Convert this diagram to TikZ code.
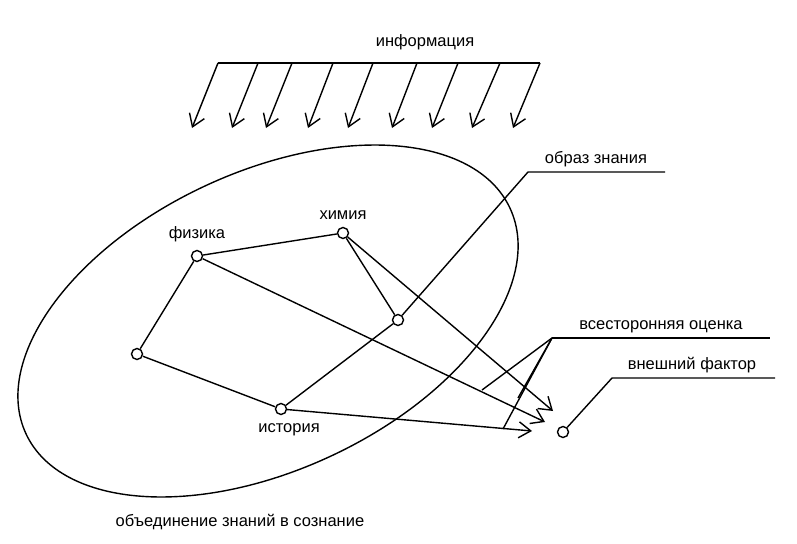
\documentclass[tikz,border=0pt]{standalone}
\usepackage{fontspec}
\setmainfont{Liberation Sans}
\usetikzlibrary{positioning, arrows.meta}
\tikzstyle{point} = [circle, draw, line width=1.4pt, inner sep=0pt, minimum size=11pt]
\tikzstyle{line} = [draw, line width=1.4pt, -{Straight Barb[length=12pt,width=16pt,line width=1.4pt]}]
\tikzstyle{label} = [font=\fontsize{16.5}{19}\selectfont, inner sep=1pt]

\begin{document}
\begin{tikzpicture}[x=1pt, y=-1pt, line width=1.4pt]
        \useasboundingbox (0,0) rectangle (797,543);
        % Information flow
        \node [label] (info) at (425,42) {информация};
        \draw (218,63) -- (540,63);
        \foreach \x/\t in {218/192, 258/232, 292/266, 333/308, 373/348, 417/392, 458/432, 500/472, 540/513}
            \path [line] (\x,63) -- (\t,128);
        % Consciousness
        \coordinate (c) at (268,321);
        \draw [rotate around={25:(c)}] (c) ellipse [x radius=267pt, y radius=149pt];
        % Place nodes
        \node [point] (phys) at (197,256) {};
        \node [point] (chem) at (343,233) {};
        \node [point] (img) at (398,320) {};
        \node [point] (left) at (137,354) {};
        \node [point] (hist) at (281,409) {};
        \node [point] (ext) at (563,432) {};
        \node [label, above=6pt of phys] {физика};
        \node [label, above=6pt of chem] {химия};
        \node [label, below=7pt of hist, xshift=8pt] {история};
        % Draw edges
        \draw (phys) -- (chem);
        \draw (phys) -- (left);
        \draw (left) -- (hist);
        \draw (chem) -- (img);
        \coordinate (imgend) at (528,172);
        \draw (hist) -- (img) -- (imgend) -- (665,172);
        \node [label, anchor=south] at (596,169) {образ знания};
        \path [line] (chem) -- (553,411);
        \path [line] (phys) -- (545,422);
        \path [line] (hist) -- (532,431);
        % Assessment
        \coordinate (eval) at (552,338);
        \draw (eval) -- (770,338);
        \node [label, anchor=south] at (661,335) {всесторонняя оценка};
        \draw (eval) -- (482,390);
        \draw (eval) -- (518,398);
        \draw (eval) -- (503,429);
        % External factor
        \coordinate (extend) at (612,378);
        \draw (ext) -- (extend) -- (775,378);
        \node [label, anchor=south] at (692,375) {внешний фактор};
        \node [label] at (240,522) {объединение знаний в сознание};
      \end{tikzpicture}
\end{document}
